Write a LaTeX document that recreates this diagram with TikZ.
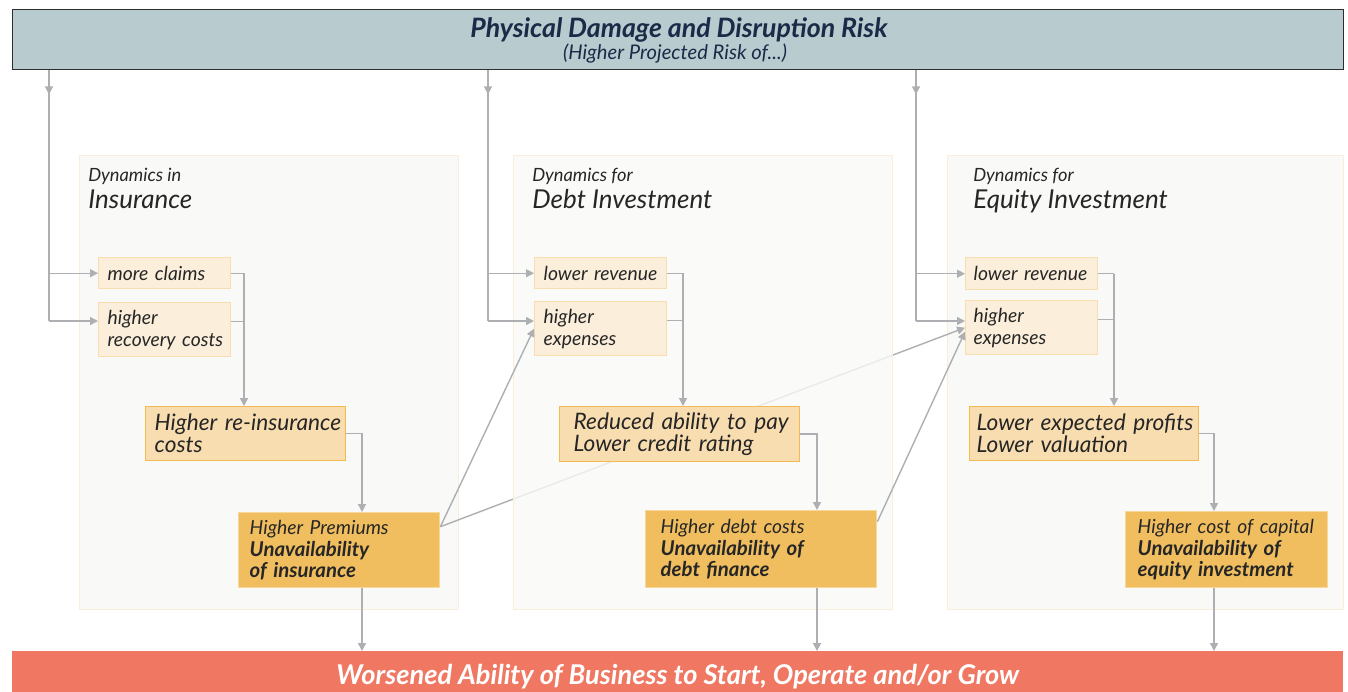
\documentclass[tikz,border=0pt]{standalone}
\usepackage{fontspec}
\setmainfont{Lato}
\usetikzlibrary{positioning,arrows.meta}
\definecolor{riskfill}{HTML}{B8CBCF}
\definecolor{riskedge}{HTML}{2E2E2E}
\definecolor{riskink}{HTML}{1B2A47}
\definecolor{panelfill}{HTML}{F9F9F7}
\definecolor{paneledge}{HTML}{FAEEDB}
\definecolor{causefill}{HTML}{FBEFDB}
\definecolor{causeedge}{HTML}{F8DDAF}
\definecolor{effectfill}{HTML}{F8DDB0}
\definecolor{effectedge}{HTML}{F2BA50}
\definecolor{outcomefill}{HTML}{F0BE5F}
\definecolor{outcomeedge}{HTML}{F7D79C}
\definecolor{linkgray}{HTML}{ADAFB2}
\definecolor{worsefill}{HTML}{F07862}
\definecolor{inkdark}{HTML}{262626}
\pgfdeclarelayer{background}
\pgfsetlayers{background,main}
\newcommand{\heavy}[1]{{\bfseries\fontsize{11.6}{12.2}\selectfont #1}}
\tikzset{
  every node/.style={
    font=\itshape,
    text=inkdark
  },
  risk/.style={
    shape=rectangle,
    anchor=north west,
    minimum width=26.62cm,
    minimum height=1.2cm,
    draw=riskedge,
    line width=0.8pt,
    fill=riskfill
  },
  risktitle/.style={
    text=riskink,
    font=\bfseries\itshape\fontsize{15.2}{18}\selectfont
  },
  risksub/.style={
    text=riskink,
    font=\itshape\fontsize{11.5}{13}\selectfont
  },
  worse/.style={
    shape=rectangle,
    anchor=north west,
    minimum width=26.62cm,
    minimum height=0.8cm,
    text height=0.55cm,
    text depth=0.1cm,
    fill=worsefill,
    text=white,
    font=\bfseries\itshape\fontsize{15.5}{17}\selectfont
  },
  panel/.style={
    shape=rectangle,
    anchor=north west,
    minimum height=9.08cm,
    draw=paneledge,
    line width=0.8pt,
    fill=panelfill
  },
  dynamics/.style={
    anchor=base west,
    inner sep=0pt,
    font=\itshape\fontsize{10.4}{12}\selectfont
  },
  market/.style={
    anchor=base west,
    inner sep=0pt,
    font=\itshape\fontsize{14.8}{17}\selectfont
  },
  box/.style 2 args={
    shape=rectangle,
    anchor=north west,
    align=left,
    text width=#1,
    minimum height=#2,
    inner xsep=0.2cm,
    line width=0.8pt,
    execute at begin node={\hyphenpenalty=10000\exhyphenpenalty=10000}
  },
  cause/.style={
    draw=causeedge,
    fill=causefill,
    font=\itshape\fontsize{11}{12.5}\selectfont
  },
  effect/.style={
    draw=effectedge,
    fill=effectfill,
    font=\itshape\fontsize{12.9}{12.5}\selectfont
  },
  outcome/.style={
    draw=outcomeedge,
    fill=outcomefill,
    font=\itshape\fontsize{11}{12.2}\selectfont
  },
  link/.style={
    draw=linkgray,
    line width=0.8pt
  },
  flow/.style={
    link,
    -{Triangle[length=4.5pt,width=4.5pt]}
  }
}

\begin{document}
\begin{tikzpicture}[x=0.02cm, y=-0.02cm]
\useasboundingbox (0,0) rectangle (1348,691);

\node [risk] (risk) at (12,9) {};
\node [risktitle] (risktitle) at (679,30) {Physical Damage and Disruption Risk};
\node [risksub] (risksub) at (675,54) {(Higher Projected Risk of...)};
\node [worse] (worse) at (12,651) {Worsened Ability of Business to Start, Operate and/or Grow};

\node [dynamics] (insdyn) at (88,181) {Dynamics in};
\node [market] (insname) at (88,208) {Insurance};
\node [dynamics] (debtdyn) at (532,181) {Dynamics for};
\node [market] (debtname) at (532,208) {Debt Investment};
\node [dynamics] (eqdyn) at (973,181) {Dynamics for};
\node [market] (eqname) at (973,208) {Equity Investment};

\node [cause, box={2.28cm}{0.62cm}, inner xsep=0.18cm] (claims) at (98,257) {more~claims};
\node [cause, box={2.28cm}{1.08cm}, inner xsep=0.18cm] (recovery) at (98,302) {higher\\recovery~costs};
\node [effect, box={3.64cm}{1.08cm}, inner xsep=0.18cm] (reins) at (145,406) {Higher~re-insurance\\costs};
\node [outcome, box={3.58cm}{1.5cm}, inner xsep=0.22cm] (premiums) at (238,512) {
  Higher~Premiums\\\heavy{Unavailability}\\\heavy{of~insurance}};

\node [cause, box={2.28cm}{0.62cm}, inner xsep=0.18cm] (debtrev) at (534,257) {lower~revenue};
\node [cause, box={2.28cm}{1.08cm}, inner xsep=0.18cm] (debtexp) at (534,301) {higher\\expenses};
\node [effect, box={4.24cm}{1.08cm}, inner xsep=0.28cm] (ability) at (559,406) {Reduced~ability~to~pay\\Lower~credit~rating};
\node [outcome, box={4.02cm}{1.54cm}, inner xsep=0.3cm] (debtcost) at (645,510) {
  Higher~debt~costs\\\heavy{Unavailability~of}\\\heavy{debt~finance}};

\node [cause, box={2.32cm}{0.64cm}, inner xsep=0.16cm] (eqrev) at (965,257) {lower~revenue};
\node [cause, box={2.32cm}{1.08cm}, inner xsep=0.16cm] (eqexp) at (965,300) {higher\\expenses};
\node [effect, box={4.3cm}{1.08cm}, inner xsep=0.14cm] (profits) at (969,406) {Lower~expected~profits\\Lower~valuation};
\node [outcome, box={3.56cm}{1.52cm}, inner xsep=0.24cm] (capital) at (1125,511) {
  Higher~cost~of~capital\\\heavy{Unavailability~of}\\\heavy{equity~investment}};

\coordinate (insbus) at (49,321);
\coordinate (debtbus) at (488,321);
\coordinate (eqbus) at (916,321);
\coordinate (insjoin) at (244,0);
\coordinate (debtjoin) at (683,0);
\coordinate (eqjoin) at (1114,0);
\coordinate (insdrop) at (362,0);
\coordinate (debtdrop) at (817,0);
\coordinate (eqdrop) at (1214,0);

\foreach \col/\rev/\exp in {ins/claims/recovery, debt/debtrev/debtexp, eq/eqrev/eqexp} {
  \draw [link] (risk.south -| \col bus) -- (\col bus);
  \draw [flow] (risk.south -| \col bus) -- ++(0,24);
  \draw [flow] (\col bus |- \rev.west) -- (\rev.west);
  \draw [flow] (\col bus) -- (\col bus -| \exp.west);
  \draw [link] (\rev.east) -- (\rev.east -| \col join);
  \draw [link] ([yshift=0.16cm]\exp.east) -- ([yshift=0.16cm]\exp.east -| \col join);
}

\draw [flow] (insjoin |- claims.east) -- (insjoin |- reins.north);
\draw [flow] (debtjoin |- debtrev.east) -- (debtjoin |- ability.north);
\draw [flow] (eqjoin |- eqrev.east) -- (eqjoin |- profits.north);

\draw [flow] (reins.east) -| (insdrop |- premiums.north);
\draw [flow] (ability.east) -| (debtdrop |- debtcost.north);
\draw [flow] (profits.east) -| (eqdrop |- capital.north);

\draw [flow] (insdrop |- premiums.south) -- (insdrop |- worse.north);
\draw [flow] (debtdrop |- debtcost.south) -- (debtdrop |- worse.north);
\draw [flow] (eqdrop |- capital.south) -- (eqdrop |- worse.north);

\draw [flow] ([yshift=0.47cm]premiums.east) -- (debtexp.west);
\draw [flow] ([yshift=0.55cm]debtcost.east) -- ([yshift=-0.08cm]eqexp.west);

\begin{pgfonlayer}{background}
  \node [panel, minimum width=7.58cm] (inspanel) at (79,155) {};
  \node [panel, minimum width=7.92cm] (eqpanel) at (947,155) {};
  \draw [flow] ([yshift=0.47cm]premiums.east) -- (eqexp.west);
  \node [panel, minimum width=7.58cm, fill opacity=0.8] (debtpanel) at (513,155) {};
\end{pgfonlayer}

\end{tikzpicture}
\end{document}
